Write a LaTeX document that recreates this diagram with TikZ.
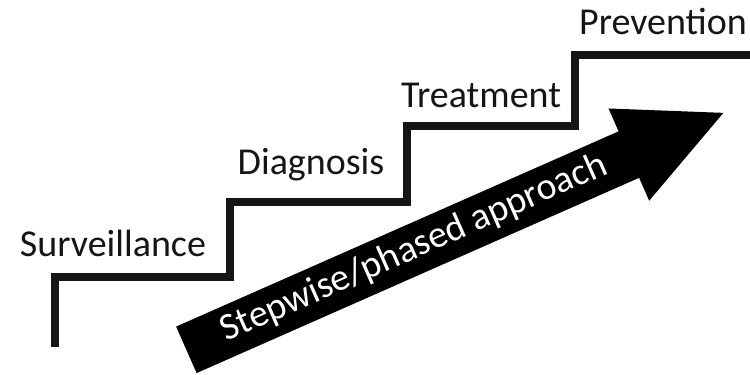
\documentclass[tikz,border=0pt]{standalone}
\usepackage{fontspec}
\setmainfont{Carlito}
\usetikzlibrary{shapes.arrows}
\definecolor{stairink}{HTML}{151515}

\begin{document}
\begin{tikzpicture}[x=0.5pt,y=0.5pt,
  stair/.style={line width=4pt,stairink,line join=miter},
  phase/.style={font=\fontsize{19}{22}\selectfont,text=stairink,anchor=base,
    inner sep=0pt},
  arrowbox/.style={single arrow,fill=black,draw=none,text=white,
    font=\fontsize{19}{22}\selectfont,minimum height=293.5pt,
    single arrow head extend=12.5pt,single arrow tip angle=52,
    text height=13pt,text depth=4pt,inner xsep=0pt,inner ysep=4pt}]
  \useasboundingbox (0,0) rectangle (750,375);
  % the staircase
  \draw[stair] (55,28) |- (230,98) |- (407,173) |- (575,249) |- (750,320);
  \node[phase] (surv) at (113,118) {Surveillance};
  \node[phase] (diag) at (311,200) {Diagnosis};
  \node[phase] (treat) at (481,267) {Treatment};
  \node[phase] (prev) at (663,340) {Prevention};
  % the big arrow
  \node[arrowbox,rotate=23.81,anchor=tail] (approach) at (186,25)
    {Stepwise/phased approach\hspace*{18pt}};
\end{tikzpicture}
\end{document}
